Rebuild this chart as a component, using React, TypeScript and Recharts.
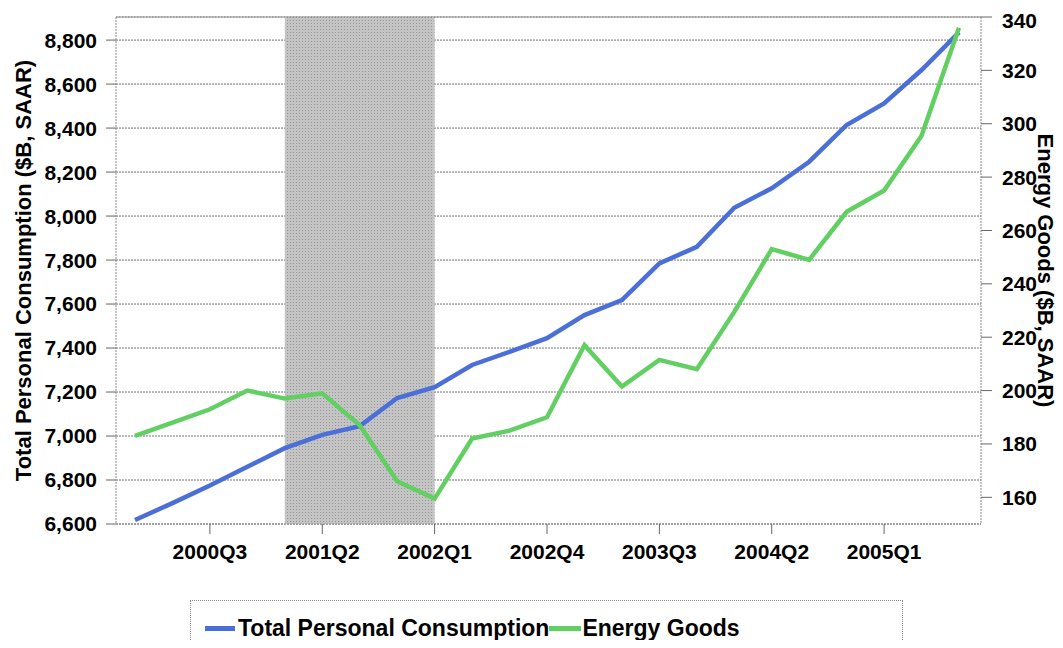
import React from 'react';
import { LineChart, Line, XAxis, YAxis, CartesianGrid, ReferenceArea, ReferenceLine } from 'recharts';

const quarters = [
  '2000Q1', '2000Q2', '2000Q3', '2000Q4',
  '2001Q1', '2001Q2', '2001Q3', '2001Q4',
  '2002Q1', '2002Q2', '2002Q3', '2002Q4',
  '2003Q1', '2003Q2', '2003Q3', '2003Q4',
  '2004Q1', '2004Q2', '2004Q3', '2004Q4',
  '2005Q1', '2005Q2', '2005Q3',
];

// $B, SAAR
const totalConsumption = [
  6618, 6695, 6775, 6860, 6945, 7005, 7045, 7173, 7222, 7323, 7383, 7445,
  7550, 7618, 7785, 7860, 8038, 8126, 8247, 8414, 8512, 8664, 8835,
];

const energyGoods = [
  183, 188, 193, 200, 197, 199, 187, 166, 159.5, 182, 185, 190,
  217, 201.5, 211.5, 208, 229.5, 253, 249, 267, 275, 295.5, 336,
];

const xTicks = ['2000Q3', '2001Q2', '2002Q1', '2002Q4', '2003Q3', '2004Q2', '2005Q1'];
const leftTicks = [6600, 6800, 7000, 7200, 7400, 7600, 7800, 8000, 8200, 8400, 8600, 8800];
const rightTicks = [160, 180, 200, 220, 240, 260, 280, 300, 320, 340];
const leftDomain = [6600, 8905];
const rightDomain = [150, 340];

// recession shading
const recessionStart = '2001Q1';
const recessionEnd = '2002Q1';

const seriesInfo = [
  { key: 'total', name: 'Total Personal Consumption', color: '#4b6fd9' },
  { key: 'energy', name: 'Energy Goods', color: '#62cf62' },
];

const chartData = quarters.map((q, i) => ({
  quarter: q,
  total: totalConsumption[i],
  energy: energyGoods[i],
}));

const FONT = '"Liberation Sans", Arial, sans-serif';
const tickStyle = { fontSize: 21, fontWeight: 700, fill: '#000', fontFamily: FONT };
const gridGrey = '#727272';

const ChartLegend = () => (
  <div
    style={{
      position: 'absolute',
      left: 182,
      top: 592,
      width: 713,
      height: 48,
      borderTop: '1px dotted #8a8a8a',
      borderLeft: '1px dotted #8a8a8a',
      borderRight: '1px dotted #8a8a8a',
      boxSizing: 'border-box',
      display: 'flex',
      alignItems: 'center',
      paddingLeft: 14,
      paddingTop: 8,
      fontFamily: FONT,
      fontWeight: 700,
      fontSize: 23,
      color: '#000',
      whiteSpace: 'nowrap',
    }}
  >
    {seriesInfo.map((s, i) => (
      <React.Fragment key={s.key}>
        <span style={{ display: 'inline-block', width: i === 0 ? 30 : 32, height: 5, background: s.color, marginRight: i === 0 ? 3 : 1 }} />
        <span>{s.name}</span>
      </React.Fragment>
    ))}
  </div>
);

export default function App() {
  return (
    <div style={{ position: 'relative', width: 1055, height: 632 }}>
      <LineChart width={1055} height={592} data={chartData} margin={{ top: 9, right: 0, left: 0, bottom: 16 }}>
        <defs>
          <pattern id="dots" width="3" height="3" patternUnits="userSpaceOnUse">
            <rect width="3" height="3" fill="#c4c4c4" />
            <rect width="1" height="1" fill="#969696" />
          </pattern>
        </defs>
        <ReferenceArea
          yAxisId="left"
          x1={recessionStart}
          x2={recessionEnd}
          y1={leftDomain[0]}
          y2={leftDomain[1]}
          fill="url(#dots)"
          fillOpacity={1}
          stroke="none"
          ifOverflow="visible"
        />
        <CartesianGrid yAxisId="left" vertical={false} stroke={gridGrey} strokeDasharray="2 1" />
        <ReferenceLine yAxisId="right" y={rightDomain[1]} stroke="#8a8a8a" strokeDasharray="2 1" />
        <XAxis
          dataKey="quarter"
          ticks={xTicks}
          padding={{ left: 19, right: 22 }}
          height={60}
          tick={tickStyle}
          tickSize={10}
          tickMargin={10}
          axisLine={{ stroke: '#8a8a8a', strokeDasharray: '2 1' }}
          tickLine={{ stroke: '#666' }}
        />
        <YAxis
          yAxisId="left"
          width={108}
          domain={leftDomain}
          ticks={leftTicks}
          allowDataOverflow
          tickFormatter={(v: number) => v.toLocaleString('en-US')}
          tick={tickStyle}
          tickSize={10}
          tickMargin={9}
          axisLine={{ stroke: '#8a8a8a', strokeDasharray: '2 1' }}
          tickLine={{ stroke: '#666' }}
          label={{
            value: 'Total Personal Consumption ($B, SAAR)',
            angle: -90,
            position: 'insideLeft',
            offset: 15,
            style: { textAnchor: 'middle', fontSize: 22, fontWeight: 700, fill: '#000', fontFamily: FONT },
          }}
        />
        <YAxis
          yAxisId="right"
          orientation="right"
          width={82}
          domain={rightDomain}
          ticks={rightTicks}
          allowDataOverflow
          tick={tickStyle}
          tickSize={11}
          tickMargin={10}
          axisLine={{ stroke: '#8a8a8a', strokeDasharray: '2 1' }}
          tickLine={{ stroke: '#666' }}
          label={{
            value: 'Energy Goods ($B, SAAR)',
            angle: 90,
            position: 'insideRight',
            offset: 17,
            style: { textAnchor: 'middle', fontSize: 22, fontWeight: 700, fill: '#000', fontFamily: FONT },
          }}
        />
        <Line
          yAxisId="left"
          type="linear"
          dataKey="total"
          name={seriesInfo[0].name}
          stroke={seriesInfo[0].color}
          strokeWidth={4.5}
          dot={false}
          isAnimationActive={false}
        />
        <Line
          yAxisId="right"
          type="linear"
          dataKey="energy"
          name={seriesInfo[1].name}
          stroke={seriesInfo[1].color}
          strokeWidth={4.5}
          dot={false}
          isAnimationActive={false}
        />
      </LineChart>
      <ChartLegend />
    </div>
  );
}
